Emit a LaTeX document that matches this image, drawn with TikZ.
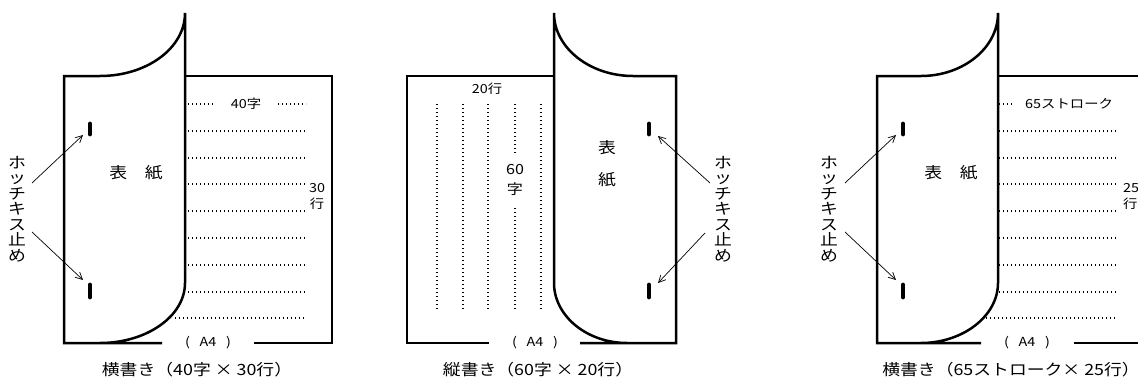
\documentclass[tikz,border=0pt]{standalone}
\usepackage{fontspec}
\setmainfont{Noto Sans CJK JP}[FakeStretch=1.15]
\usetikzlibrary{arrows.meta}
\begin{document}
\begin{tikzpicture}[x=1pt,y=-1pt,
 outline/.style={line width=2.5pt, line join=miter},
 staple/.style={line width=4.8pt, line cap=round},
 ptr/.style={line width=0.7pt, -{Straight Barb[length=7pt,width=7pt]}},
 dots/.style={line width=1.3pt, dash pattern=on 0.9pt off 3.1pt},
 lbl/.style={font=\fontsize{15.5}{15.5}\selectfont, inner sep=0pt, align=center},
 small/.style={font=\fontsize{12.5}{16}\selectfont, inner sep=0pt, align=center},
]
\useasboundingbox (0,0) rectangle (1138,380);
\fill[white] (0,0) rectangle (1138,380);

% ---------------- Diagram 1 ----------------
\draw[outline] (162,343) -- (64,343) -- (64,76) -- (100,76)
  .. controls (147,76) and (185,48) .. (185,13) -- (185,283)
  .. controls (185,316) and (147,343) .. (100,343);
\draw[outline] (185,76) -- (332,76) -- (332,343) -- (254,343);
\node[small] (a4a) at (208,343) {(\ \ \ A4\ \ \ )};
\draw[staple] (90,124) -- (90,134);
\draw[staple] (90,285) -- (90,297);
\coordinate (s1a) at (83,135);
\coordinate (s2a) at (83,280);
\node[lbl] (va) at (17,209) {ホ\\ッ\\チ\\キ\\ス\\止\\め};
\coordinate (pa1) at (32,183);
\coordinate (pa2) at (32,232);
\draw[ptr] (pa1) -- (s1a);
\draw[ptr] (pa2) -- (s2a);
\node[lbl] (cova) at (136,173) {表　紙};
\draw[dots] (188,104) -- (214,104);
\draw[dots] (278,104) -- (306,104);
\node[small] (ja) at (246,104) {40字};
\foreach \yy in {131,158,184,211,238,265,292}
  \draw[dots] (188,\yy) -- (306,\yy);
\draw[dots] (175,318) -- (306,318);
\node[small] (ra) at (317,196) {30\\行};
\node[lbl] (capa) at (197,370) {横書き（40字 × 30行）};

% ---------------- Diagram 2 ----------------
\draw[outline] (489,343) -- (407,343) -- (407,76) -- (554,76);
\draw[outline] (580,343) -- (676,343) -- (676,76) -- (633,76)
  .. controls (590,76) and (554,48) .. (554,13) -- (554,283)
  .. controls (554,316) and (587,343) .. (627,343);
\node[small] (a4b) at (535,343) {(\ \ \ A4\ \ \ )};
\node[small] (rb) at (487,89) {20行};
\foreach \xx in {437,463,488,541}
  \draw[dots] (\xx,104) -- (\xx,310);
\draw[dots] (515,104) -- (515,155);
\draw[dots] (515,208) -- (515,310);
\node[small, font=\fontsize{14}{20}\selectfont] (jb) at (515,180) {60\\字};
\node[lbl, font=\fontsize{15.5}{32}\selectfont] (covb) at (607,164) {表\\紙};
\draw[staple] (649,124) -- (649,134);
\draw[staple] (649,285) -- (649,297);
\coordinate (s1b) at (658,136);
\coordinate (s2b) at (658,283);
\node[lbl] (vb) at (723,209) {ホ\\ッ\\チ\\キ\\ス\\止\\め};
\coordinate (pb1) at (710,183);
\coordinate (pb2) at (705,233);
\draw[ptr] (pb1) -- (s1b);
\draw[ptr] (pb2) -- (s2b);
\node[lbl] (capb) at (538,370) {縦書き（60字 × 20行）};

% ---------------- Diagram 3 ----------------
\draw[outline] (981,343) -- (877,343) -- (877,76) -- (921,76)
  .. controls (963,76) and (998,48) .. (998,13) -- (998,283)
  .. controls (998,316) and (963,343) .. (921,343);
\draw[outline] (998,76) -- (1142,76);
\draw[outline] (1074,343) -- (1142,343);
\node[small] (a4c) at (1027,343) {(\ \ \ A4\ \ \ )};
\draw[staple] (903,124) -- (903,134);
\draw[staple] (903,285) -- (903,297);
\coordinate (s1c) at (896,135);
\coordinate (s2c) at (896,280);
\node[lbl] (vc) at (829,209) {ホ\\ッ\\チ\\キ\\ス\\止\\め};
\coordinate (pc1) at (845,183);
\coordinate (pc2) at (845,232);
\draw[ptr] (pc1) -- (s1c);
\draw[ptr] (pc2) -- (s2c);
\node[lbl] (covc) at (951,173) {表　紙};
\draw[dots] (999,104) -- (1012,104);
\node[small, anchor=west] (jc) at (1025,104) {65ストローク};
\foreach \yy in {131,158,184,211,238,265,292}
  \draw[dots] (999,\yy) -- (1117,\yy);
\draw[dots] (986,318) -- (1117,318);
\node[small, anchor=west, align=left] (rc) at (1123,196) {25\\行};
\node[lbl] (capc) at (1011,370) {横書き（65ストローク× 25行）};
\end{tikzpicture}
\end{document}
